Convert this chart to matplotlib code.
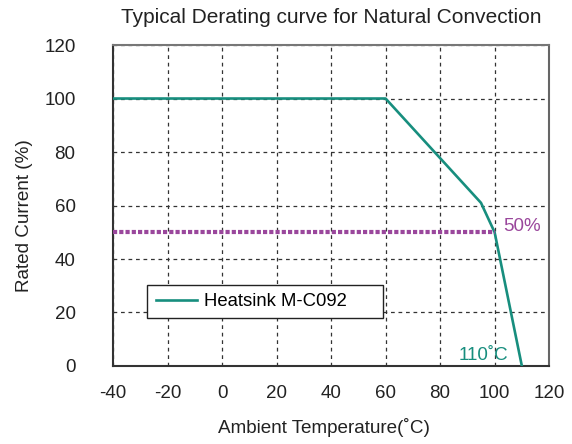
import matplotlib
matplotlib.use("Agg")
from matplotlib import pyplot as plt
from matplotlib.patches import Rectangle

plt.rcParams['font.family'] = ['Liberation Sans', 'DejaVu Sans']
plt.rcParams['axes.unicode_minus'] = False

# derating curve
temp = [-40, 60, 95, 100, 110]
current = [100, 100, 61, 50, 0]

# 50% reference line
ref_x = [-40, 100]
ref_y = [50, 50]

xticks = [-40, -20, 0, 20, 40, 60, 80, 100, 120]
yticks = [0, 20, 40, 60, 80, 100, 120]

teal = '#178e7e'
purple = '#9a479c'

fig = plt.figure(figsize=(5.72, 4.44), dpi=100)
ax = fig.add_axes([0.1976, 0.1757, 0.7624, 0.7229])

ax.plot(temp, current, color=teal, lw=1.9, label='Heatsink M-C092', zorder=3)
ax.plot(ref_x, ref_y, color=purple, lw=3, linestyle=(0, (1, 0.5)), zorder=3)

ax.text(103, 50.5, '50%', color=purple, fontsize=13.5, ha='left', va='baseline')
ax.text(105, 2.2, '110˚C', color=teal, fontsize=13.5, ha='right', va='baseline')

ax.set_xlim(-40, 120)
ax.set_ylim(0, 120)
ax.set_xticks(xticks)
ax.set_yticks(yticks)
ax.tick_params(length=0, labelsize=13.5, colors='#222222')
ax.tick_params(axis='x', pad=13.5)
ax.tick_params(axis='y', pad=27)
ax.grid(True, color='#333333', linestyle=(0, (3, 3)), lw=0.9)
for s in ax.spines.values():
    s.set_color('#333333')
    s.set_linewidth(1.5)
ax.spines['top'].set_color('#777777')
ax.spines['right'].set_color('#666666')

ax.set_title('Typical Derating curve for Natural Convection', fontsize=15,
             pad=16, color='#222222')
ax.set_xlabel('Ambient Temperature(˚C)', fontsize=13.6, color='#222222')
ax.set_ylabel('Rated Current (%)', fontsize=13.6, color='#222222')
ax.xaxis.set_label_coords(0.483, -0.163)
ax.yaxis.set_label_coords(-0.183, 0.467)

# legend box
ax.add_patch(Rectangle((0.078, 0.1495), 0.541, 0.1025, transform=ax.transAxes,
                       facecolor='white', edgecolor='#222222', lw=1.0, zorder=4))
leg = ax.legend(loc='center left', bbox_to_anchor=(0.099, 0.2), fontsize=13.3,
                frameon=False, borderpad=0, borderaxespad=0,
                handlelength=2.2, handletextpad=0.38)
leg.set_zorder(5)

plt.savefig('out.png', dpi=100)
